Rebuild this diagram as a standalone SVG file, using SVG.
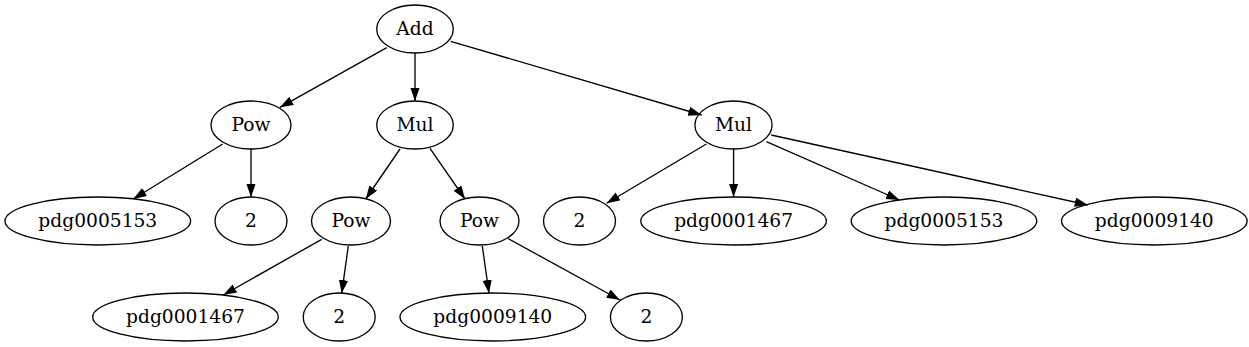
<svg xmlns="http://www.w3.org/2000/svg" width="1249" height="347" viewBox="0 0 1249 347">
<style>
.n ellipse{fill:none;stroke:#000;stroke-width:1.33}
.n text{font-family:"DejaVu Serif","Liberation Serif",serif;font-size:18.67px;text-anchor:middle;fill:#000}
.e line{stroke:#000;stroke-width:1.33;marker-end:url(#ah)}
</style>
<defs>
<marker id="ah" markerUnits="userSpaceOnUse" markerWidth="14" markerHeight="10" refX="13.3" refY="4.67" orient="auto">
<path d="M0,0 L13.3,4.67 L0,9.33 z" fill="#000"/>
</marker>
</defs>
<rect width="1249" height="347" fill="#fff"/>
<g id="edges" class="e">
<line x1="386.7" y1="47.7" x2="280" y2="107.3"/>
<line x1="415" y1="53" x2="415" y2="101"/>
<line x1="450.7" y1="41.3" x2="701.6" y2="115"/>
<line x1="222.7" y1="144" x2="133.3" y2="199"/>
<line x1="251" y1="149" x2="251" y2="197"/>
<line x1="400" y1="149" x2="365.7" y2="199"/>
<line x1="430" y1="148.3" x2="465" y2="199"/>
<line x1="321.7" y1="239.3" x2="223.3" y2="295"/>
<line x1="348.3" y1="246" x2="341.7" y2="293.3"/>
<line x1="482.3" y1="246" x2="489" y2="293.3"/>
<line x1="508" y1="238.5" x2="620" y2="300"/>
<line x1="706.4" y1="144" x2="606.6" y2="203.3"/>
<line x1="733.6" y1="149" x2="733.6" y2="197"/>
<line x1="766.4" y1="141.7" x2="899.4" y2="200"/>
<line x1="771.2" y1="135" x2="1088" y2="205"/>
</g>
<g id="add" class="n"><ellipse cx="415" cy="29" rx="38.3" ry="24"/><text x="415" y="34.5">Add</text></g>
<g id="pow1" class="n"><ellipse cx="251" cy="125" rx="40" ry="24"/><text x="251" y="130.5">Pow</text></g>
<g id="mul1" class="n"><ellipse cx="415" cy="125" rx="38.3" ry="24"/><text x="415" y="130.5">Mul</text></g>
<g id="mul2" class="n"><ellipse cx="733.5" cy="125" rx="38.6" ry="24"/><text x="733.5" y="130.5">Mul</text></g>
<g id="v5153a" class="n"><ellipse cx="97.8" cy="221" rx="92.8" ry="24"/><text x="97.8" y="226.5">pdg0005153</text></g>
<g id="two1" class="n"><ellipse cx="251" cy="221" rx="36" ry="24"/><text x="251" y="226.5">2</text></g>
<g id="pow2" class="n"><ellipse cx="351" cy="221" rx="39.5" ry="24"/><text x="351" y="226.5">Pow</text></g>
<g id="pow3" class="n"><ellipse cx="479.5" cy="221" rx="39.5" ry="24"/><text x="479.5" y="226.5">Pow</text></g>
<g id="two2" class="n"><ellipse cx="579.5" cy="221" rx="36" ry="24"/><text x="579.5" y="226.5">2</text></g>
<g id="v1467a" class="n"><ellipse cx="733.6" cy="221" rx="92.8" ry="24"/><text x="733.6" y="226.5">pdg0001467</text></g>
<g id="v5153b" class="n"><ellipse cx="944" cy="221" rx="92.8" ry="24"/><text x="944" y="226.5">pdg0005153</text></g>
<g id="v9140a" class="n"><ellipse cx="1154.3" cy="221" rx="92.8" ry="24"/><text x="1154.3" y="226.5">pdg0009140</text></g>
<g id="v1467b" class="n"><ellipse cx="185.5" cy="317" rx="92.8" ry="24"/><text x="185.5" y="322.5">pdg0001467</text></g>
<g id="two3" class="n"><ellipse cx="339.2" cy="317" rx="36" ry="24"/><text x="339.2" y="322.5">2</text></g>
<g id="v9140b" class="n"><ellipse cx="492.8" cy="317" rx="92.8" ry="24"/><text x="492.8" y="322.5">pdg0009140</text></g>
<g id="two4" class="n"><ellipse cx="646.4" cy="317" rx="36" ry="24"/><text x="646.4" y="322.5">2</text></g>
</svg>
